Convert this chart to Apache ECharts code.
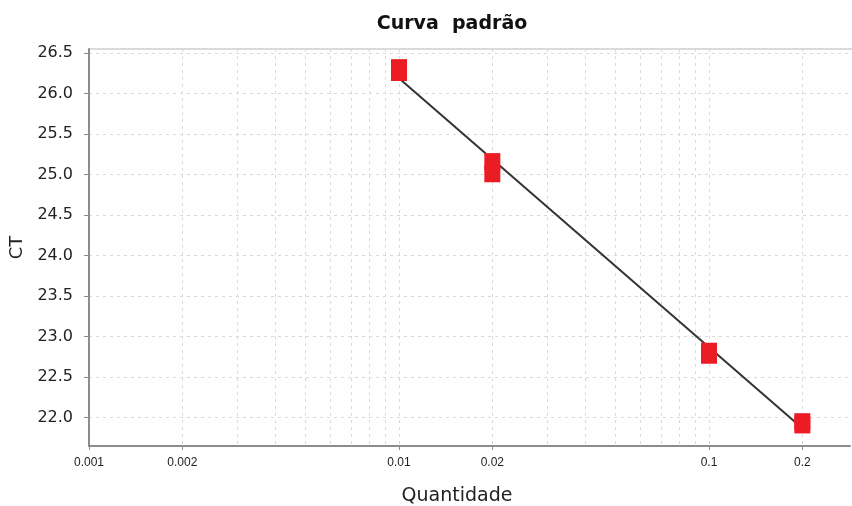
<!DOCTYPE html>
<html>
<head>
<meta charset="utf-8">
<script src="https://cdn.jsdelivr.net/npm/echarts@6/dist/echarts.min.js"></script>
<style>
  html, body { margin: 0; padding: 0; background: #fff; }
  #chart { width: 852px; height: 506px; }
</style>
</head>
<body>
<div id="chart"></div>
<script>
// Standard curve: Ct versus template quantity (log scale), two replicates per dilution
const quantities = [0.01, 0.01, 0.02, 0.02, 0.1, 0.1, 0.2, 0.2];
const ctValues   = [26.32, 26.26, 25.16, 25.01, 22.82, 22.77, 21.95, 21.91];

// Fitted regression line, drawn between the lowest and highest dilutions
const fitQuantities = [0.01, 0.2];
const fitCt         = [26.19, 21.87];

// Axis tick values
const xLabelValues = [0.001, 0.002, 0.01, 0.02, 0.1, 0.2];
const xGridValues  = [0.001, 0.002, 0.003, 0.004, 0.005, 0.006, 0.007, 0.008, 0.009,
                      0.01, 0.02, 0.03, 0.04, 0.05, 0.06, 0.07, 0.08, 0.09,
                      0.1, 0.2];
const yTickValues  = [22.0, 22.5, 23.0, 23.5, 24.0, 24.5, 25.0, 25.5, 26.0, 26.5];

const chart = echarts.init(document.getElementById('chart'), null, { renderer: 'canvas' });

const gridLineStyle = { color: '#d9d9d9', width: 1, type: [3, 4] };
const X_MIN = 0.001, X_MAX = 0.285;

chart.setOption({
  animation: false,
  backgroundColor: '#ffffff',
  title: {
    text: 'Curva  padrão',
    left: 447,
    top: 10,
    textAlign: 'center',
    textStyle: {
      fontFamily: '"DejaVu Sans", sans-serif',
      fontWeight: 'bold',
      fontSize: 19,
      color: '#111'
    }
  },
  grid: { left: 89, right: 2, top: 49, bottom: 60, show: false, outerBoundsMode: 'none', containLabel: false },
  xAxis: [
    {
      // main log axis: labels, minor grid lines
      type: 'log',
      logBase: 10,
      min: X_MIN,
      max: X_MAX,
      name: 'Quantidade',
      nameLocation: 'middle',
      nameGap: 41,
      nameTextStyle: {
        fontFamily: '"DejaVu Sans", sans-serif',
        fontSize: 19,
        color: '#222',
        padding: [0, 25, 0, 0]
      },
      axisLine: { show: true, lineStyle: { color: '#8c8c8c', width: 2 } },
      axisTick: { show: false, customValues: xGridValues },
      axisLabel: {
        customValues: xLabelValues,
        margin: 11,
        fontFamily: '"Liberation Sans", Arial, sans-serif',
        fontSize: 12,
        color: '#222',
        formatter: v => String(+v.toPrecision(3))
      },
      splitLine: { show: true, lineStyle: gridLineStyle }
    },
    {
      // overlay axis carrying the tick marks at labelled positions only
      type: 'log',
      logBase: 10,
      min: X_MIN,
      max: X_MAX,
      position: 'bottom',
      axisLine: { show: false },
      axisTick: { show: true, length: 4, customValues: xLabelValues, lineStyle: { color: '#8c8c8c' } },
      axisLabel: { show: false },
      splitLine: { show: false }
    }
  ],
  yAxis: {
    type: 'value',
    min: 21.65,
    max: 26.55,
    name: 'CT',
    nameLocation: 'middle',
    nameGap: 63,
    nameRotate: 90,
    nameTextStyle: {
      fontFamily: '"DejaVu Sans", sans-serif',
      fontSize: 18,
      color: '#222'
    },
    axisLine: { show: true, lineStyle: { color: '#8c8c8c', width: 2 } },
    axisTick: { show: true, length: 5, customValues: yTickValues, lineStyle: { color: '#8c8c8c' } },
    axisLabel: {
      customValues: yTickValues,
      margin: 16,
      fontFamily: '"DejaVu Sans", sans-serif',
      fontSize: 16,
      color: '#222',
      formatter: v => v.toFixed(1)
    },
    splitLine: { show: true, lineStyle: gridLineStyle }
  },
  graphic: [{
    type: 'line',
    shape: { x1: 89, y1: 49, x2: 852, y2: 49 },
    style: { stroke: '#b5b5b5', lineWidth: 1 },
    silent: true
  }],
  series: [
    {
      name: 'Ajuste',
      type: 'line',
      data: fitQuantities.map((q, i) => [q, fitCt[i]]),
      showSymbol: false,
      lineStyle: { color: '#333', width: 2 },
      z: 2
    },
    {
      name: 'Amostras',
      type: 'scatter',
      data: quantities.map((q, i) => [q, ctValues[i]]),
      symbol: 'rect',
      symbolSize: [16, 17],
      itemStyle: { color: '#ec1c24', opacity: 1 },
      z: 3
    }
  ]
});
</script>
</body>
</html>
